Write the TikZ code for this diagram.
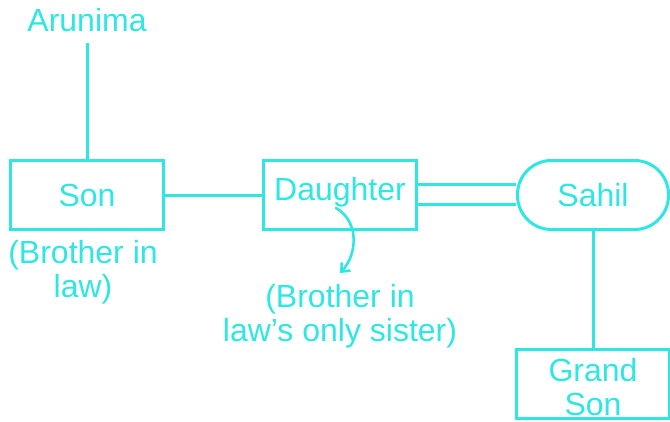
\documentclass[tikz,border=0pt]{standalone}
\usepackage{fontspec}
\usetikzlibrary{arrows.meta}
\setmainfont{Liberation Sans}
\definecolor{cy}{HTML}{2EE6E2}
\begin{document}
\begin{tikzpicture}[x=1pt,y=-1pt,
  every node/.style={text=cy,font=\fontsize{32}{33}\selectfont,inner sep=0pt},
  box/.style={draw=cy,line width=3pt,minimum width=153pt,minimum height=69pt},
  pill/.style={box,rounded corners=34pt},
  lbl/.style={align=center,font=\fontsize{32}{34}\selectfont},
  ln/.style={draw=cy,line width=3pt}]
\useasboundingbox (0,0) rectangle (670,421);
\node (aru) at (87,20) {Arunima};
\node[box] (son) at (87,195) {Son};
\node[lbl] (sonl) at (83,272) {(Brother in\\law)};
\node[box,label={[yshift=3pt]center:Daughter}] (dau) at (340,195) {};
\node[pill,minimum width=151pt] (sah) at (593,195) {Sahil};
\node[box,label={[lbl,yshift=-3pt]center:Grand\\Son}] (gs) at (593,384) {};
\node[lbl] (dl) at (340,316) {(Brother in\\law's only sister)};
\coordinate (aruB) at (87,43);
\draw[ln] (aruB) -- (son.north);
\draw[ln] (son.east) -- (dau.west);
\draw[ln] ([yshift=-9pt]dau.east) -- ([yshift=-9pt]sah.west);
\draw[ln] ([yshift=11pt]dau.east) -- ([yshift=11pt]sah.west);
\draw[ln] (sah.south) -- (gs.north);
\coordinate (cs) at (336,208);
\coordinate (ce) at (340,273);
\draw[draw=cy,line width=2.6pt,-{Straight Barb[length=7pt,width=12pt]},line cap=round] (cs) .. controls (360,222) and (357,255) .. (ce);
\end{tikzpicture}
\end{document}
